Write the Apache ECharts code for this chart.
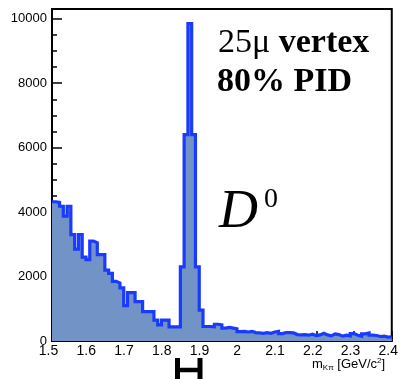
<!DOCTYPE html>
<html>
<head>
<meta charset="utf-8">
<script src="https://cdn.jsdelivr.net/npm/echarts@6/dist/echarts.min.js"></script>
<style>
  html, body { margin: 0; padding: 0; background: #fff; }
  #chart { width: 401px; height: 379px; }
</style>
</head>
<body>
<div id="chart"></div>
<script>
// K-pi invariant mass histogram, 10 MeV bins from 1.50 to 2.40 GeV/c^2
const binStart = 1.5;
const binWidth = 0.01;
const counts = [
  4320, 4300, 4180, 3870, 4180, 3300, 2850, 3300, 2600, 2520,
  3100, 3050, 2680, 2680, 2200, 2100, 1850, 1800, 1650, 1100,
  1500, 1500, 1220, 1220, 910, 910, 910, 650, 500, 650,
  650, 440, 440, 440, 2300, 6400, 9850, 6400, 2300, 960,
  450, 450, 440, 520, 500, 400, 420, 400, 380, 290,
  300, 280, 300, 260, 250, 240, 260, 240, 280, 300,
  230, 260, 260, 250, 200, 190, 200, 180, 210, 170,
  190, 240, 190, 160, 220, 200, 150, 180, 160, 230,
  180, 150, 220, 250, 180, 170, 140, 150, 120, 130
];
const xTickLabels = ['1.5', '1.6', '1.7', '1.8', '1.9', '2', '2.1', '2.2', '2.3', '2.4'];
const yTickLabels = ['0', '2000', '4000', '6000', '8000', '10000'];

// step outline points: left edge of every bin, plus closing right edge
const stepData = counts.map((c, i) => [+(binStart + i * binWidth).toFixed(2), c]);
stepData.push([+(binStart + counts.length * binWidth).toFixed(2), counts[counts.length - 1]]);

const chart = echarts.init(document.getElementById('chart'), null, { renderer: 'canvas' });

const labelFont = 'Liberation Sans';
const serif = 'Liberation Serif';

chart.setOption({
  animation: false,
  backgroundColor: '#fff',
  grid: { left: 52, right: 8, top: 9, bottom: 38, show: true, borderColor: '#000', borderWidth: 2, backgroundColor: 'transparent' },
  xAxis: {
    type: 'value', min: 1.5, max: 2.4, interval: 0.1,
    axisLine: { lineStyle: { color: '#000', width: 2 } },
    axisTick: { inside: true, length: 10, lineStyle: { color: '#000', width: 1.5 } },
    minorTick: { show: true, splitNumber: 5, length: 5, lineStyle: { color: '#000', width: 1.5 } },
    splitLine: { show: false },
    axisLabel: {
      color: '#000', fontFamily: labelFont, fontSize: 14, margin: 3,
      padding: [0, 7, 0, 0],
      formatter: (v) => {
        const idx = Math.round((v - 1.5) / 0.1);
        return xTickLabels[idx] !== undefined ? xTickLabels[idx] : '';
      }
    }
  },
  yAxis: [
    {
      // fine ticks every 500
      type: 'value', min: 0, max: 10300, interval: 500, position: 'left',
      axisLine: { lineStyle: { color: '#000', width: 2 } },
      axisTick: { inside: true, length: 5, lineStyle: { color: '#000', width: 1.5 } },
      axisLabel: { show: false },
      splitLine: { show: false }
    },
    {
      // labelled ticks every 2000
      type: 'value', min: 0, max: 10300, interval: 2000, position: 'left',
      axisLine: { show: false },
      axisTick: { inside: true, length: 10, lineStyle: { color: '#000', width: 1.5 } },
      axisLabel: {
        color: '#000', fontFamily: labelFont, fontSize: 13, margin: 5,
        showMaxLabel: false,
        formatter: (v) => {
          const idx = Math.round(v / 2000);
          return (v % 2000 === 0 && yTickLabels[idx] !== undefined) ? yTickLabels[idx] : '';
        }
      },
      splitLine: { show: false }
    }
  ],
  series: [{
    type: 'line',
    step: 'end',
    data: stepData,
    yAxisIndex: 0,
    symbol: 'none',
    lineStyle: { color: '#1a3aff', width: 3.2, join: 'miter' },
    areaStyle: { color: '#7293c5', opacity: 1, origin: 'start' },
    z: 1
  }],
  graphic: [
    {
      type: 'text', left: 218, top: 26,
      style: {
        text: '{r|25μ }{b|vertex}',
        rich: {
          r: { fontFamily: serif, fontSize: 34, fill: '#000' },
          b: { fontFamily: serif, fontSize: 34, fontWeight: 'bold', fill: '#000' }
        }
      }
    },
    {
      type: 'text', left: 217, top: 65,
      style: { text: '80% PID', font: 'bold 34px "Liberation Serif"', fill: '#000' }
    },
    {
      type: 'text', left: 219, top: 186,
      style: { text: 'D', font: 'italic 54px "Liberation Serif"', fill: '#000' }
    },
    {
      type: 'text', left: 264, top: 186,
      style: { text: '0', font: '28px "Liberation Serif"', fill: '#000' }
    },
    {
      type: 'text', left: 312, top: 357,
      style: {
        text: '{m|m}{s|Kπ}{n| [GeV/c}{p|2}{n|]}',
        rich: {
          m: { fontFamily: labelFont, fontSize: 13, fill: '#000' },
          s: { fontFamily: labelFont, fontSize: 8, fill: '#000', padding: [7, 0, 0, 0] },
          n: { fontFamily: labelFont, fontSize: 13, fill: '#000' },
          p: { fontFamily: labelFont, fontSize: 8, fill: '#000', padding: [0, 0, 7, 0] }
        }
      }
    },
    {
      type: 'polyline', shape: { points: [[177.5, 358], [177.5, 379]] },
      style: { stroke: '#000', lineWidth: 5 }
    },
    {
      type: 'polyline', shape: { points: [[200, 358], [200, 379]] },
      style: { stroke: '#000', lineWidth: 5 }
    },
    {
      type: 'polyline', shape: { points: [[177.5, 370], [200, 370]] },
      style: { stroke: '#000', lineWidth: 4.5 }
    }
  ]
});
</script>
</body>
</html>
